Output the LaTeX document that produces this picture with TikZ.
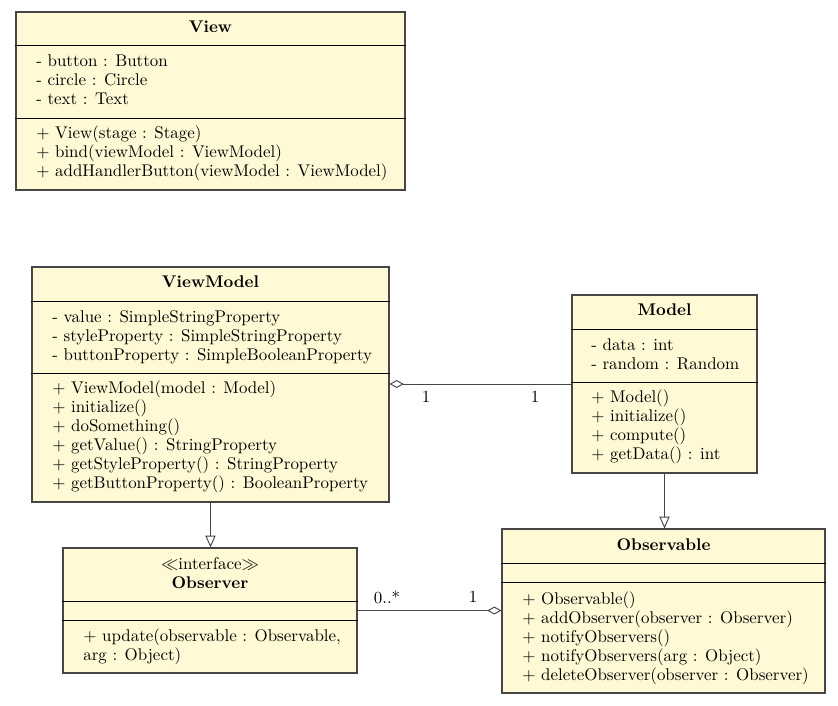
\documentclass[tikz,border=0pt]{standalone}
\usetikzlibrary{arrows.meta,fit}
\definecolor{umlfill}{RGB}{255,249,214}
\definecolor{umlline}{RGB}{70,70,70}
\tikzset{
  classbox/.style={draw=umlline,fill=umlfill,line width=0.7pt,inner sep=0pt},
  sep/.style={draw=black,line width=0.6pt},
  title/.style={font=\bfseries,inner sep=0pt,anchor=center},
  body/.style={align=left,inner sep=0pt,anchor=west},
  mult/.style={inner sep=0pt,anchor=center},
  gen/.style={draw=umlline,line width=0.6pt,-{Triangle[open,length=7.5pt,width=6.5pt]}},
  aggr/.style={draw=umlline,line width=0.6pt,{Diamond[open,length=9pt,width=5pt]}-}
}
\begin{document}
\fontsize{10.7pt}{12pt}\selectfont
\begin{tikzpicture}[x=0.632pt,y=-0.632pt]
\useasboundingbox (0,0) rectangle (838,705);

% View
\node[classbox,fit={(16,12)(405,190)}] (view) {};
\draw[sep] (view.west |- 0,45) -- (view.east |- 0,45);
\draw[sep] (view.west |- 0,118) -- (view.east |- 0,118);
\node[title] (viewt) at (210.5,27) {View};
\node[body] (viewa) at (36,81.8) {\strut- button : Button\\\strut- circle : Circle\\\strut- text : Text};
\node[body] (viewm) at (36,153.3) {\strut+ View(stage : Stage)\\\strut+ bind(viewModel : ViewModel)\\\strut+ addHandlerButton(viewModel : ViewModel)};

% ViewModel
\node[classbox,fit={(32,267)(389,502)}] (vm) {};
\draw[sep] (vm.west |- 0,301) -- (vm.east |- 0,301);
\draw[sep] (vm.west |- 0,373) -- (vm.east |- 0,373);
\node[title] (vmt) at (210.5,282) {ViewModel};
\node[body] (vma) at (52,337.3) {\strut- value : SimpleStringProperty\\\strut- styleProperty : SimpleStringProperty\\\strut- buttonProperty : SimpleBooleanProperty};
\node[body] (vmm) at (52,436.8) {\strut+ ViewModel(model : Model)\\\strut+ initialize()\\\strut+ doSomething()\\\strut+ getValue() : StringProperty\\\strut+ getStyleProperty() : StringProperty\\\strut+ getButtonProperty() : BooleanProperty};

% Model
\node[classbox,fit={(572,295)(757,473)}] (model) {};
\draw[sep] (model.west |- 0,329) -- (model.east |- 0,329);
\draw[sep] (model.west |- 0,382) -- (model.east |- 0,382);
\node[title] (modelt) at (664.5,310) {Model};
\node[body] (modela) at (591,355.8) {\strut- data : int\\\strut- random : Random};
\node[body] (modelm) at (591,426.8) {\strut+ Model()\\\strut+ initialize()\\\strut+ compute()\\\strut+ getData() : int};

% Observable
\node[classbox,fit={(502,529)(825,693)}] (obl) {};
\draw[sep] (obl.west |- 0,563) -- (obl.east |- 0,563);
\draw[sep] (obl.west |- 0,582) -- (obl.east |- 0,582);
\node[title] (oblt) at (663.5,545) {Observable};
\node[body] (oblm) at (522,638.3) {\strut+ Observable()\\\strut+ addObserver(observer : Observer)\\\strut+ notifyObservers()\\\strut+ notifyObservers(arg : Object)\\\strut+ deleteObserver(observer : Observer)};

% Observer
\node[classbox,fit={(63,548)(357,673)}] (obs) {};
\draw[sep] (obs.west |- 0,601) -- (obs.east |- 0,601);
\draw[sep] (obs.west |- 0,620) -- (obs.east |- 0,620);
\node[align=center,inner sep=0pt] (obst) at (210,574.8) {\strut$\ll$interface$\gg$\\\strut\textbf{Observer}};
\node[body] (obsm) at (83,646.8) {\strut+ update(observable : Observable,\\\strut arg : Object)};

% connectors
\draw[aggr] (vm.east |- model.west) -- (model.west);
\node[mult] (m1) at (426,397) {1};
\node[mult] (m2) at (535,397) {1};
\draw[gen] (vm.south) -- (vm.south |- obs.north);
\draw[gen] (model.south) -- (model.south |- obl.north);
\draw[aggr] (obl.west |- obs.east) -- (obs.east);
\node[mult] (m3) at (387,597) {0..*};
\node[mult] (m4) at (473,597) {1};
\end{tikzpicture}
\end{document}
